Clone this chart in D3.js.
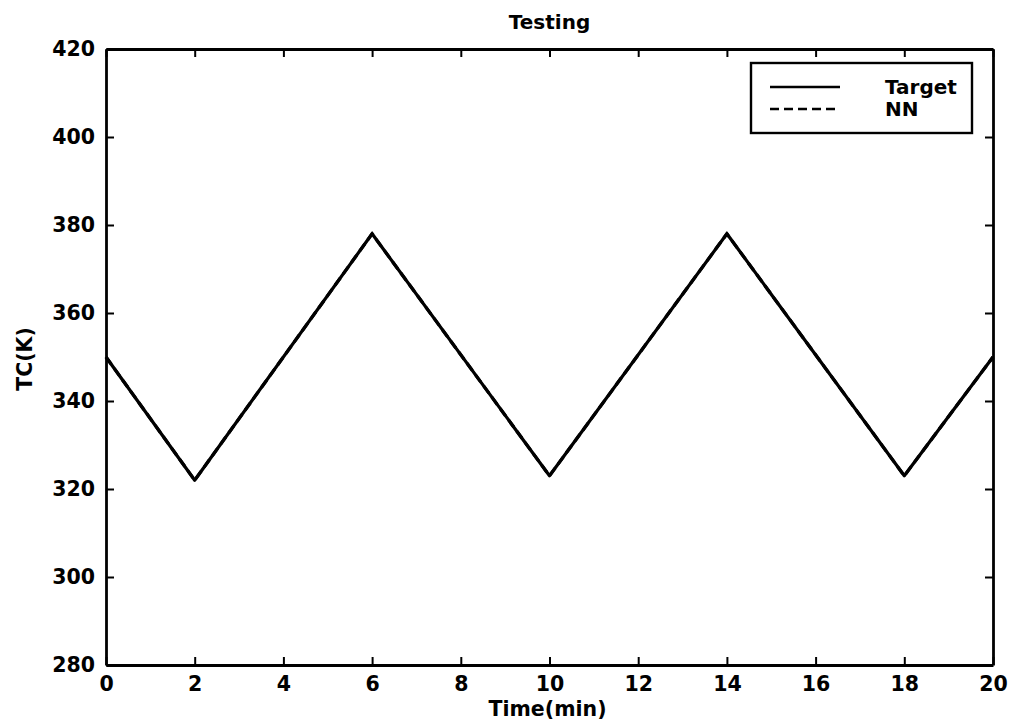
<!DOCTYPE html>
<html>
<head>
<meta charset="utf-8">
<script src="https://cdn.jsdelivr.net/npm/d3@7"></script>
<style>
  html, body { margin: 0; padding: 0; background: #fff; }
  svg { display: block; }
  text { font-family: "DejaVu Sans", sans-serif; font-weight: bold; fill: #000; }
</style>
</head>
<body>
<svg id="chart" width="1016" height="727"></svg>
<script>
// Time samples (min) at the corners of the triangular profile
const timeMin = [0, 2, 6, 10, 14, 18, 20];
// Coolant temperature set-point and network output (K)
const targetTC = [350, 322, 378, 323, 378, 323, 350];
const nnTC = [350, 322, 378, 323, 378, 323, 350];

const xTicks = [0, 2, 4, 6, 8, 10, 12, 14, 16, 18, 20];
const yTicks = [280, 300, 320, 340, 360, 380, 400, 420];
const seriesNames = ["Target", "NN"];

const svg = d3.select("#chart");
const plotLeft = 106, plotRight = 993, plotTop = 49, plotBottom = 665;

const x = d3.scaleLinear().domain([0, 20]).range([plotLeft, plotRight]);
const y = d3.scaleLinear().domain([280, 420]).range([plotBottom, plotTop]);

function styleAxis(g) {
  g.selectAll("path.domain").attr("stroke", "#000").attr("stroke-width", 2.8);
  g.selectAll(".tick line").attr("stroke", "#000").attr("stroke-width", 2);
  g.selectAll(".tick text").attr("font-size", 20.5).attr("font-family", "DejaVu Sans").attr("font-weight", "bold").attr("fill", "#000");
}

// Box axes with inward ticks
svg.append("g").attr("transform", `translate(0,${plotBottom})`)
  .call(d3.axisBottom(x).tickValues(xTicks).tickSizeInner(-8).tickSizeOuter(0).tickPadding(11))
  .call(styleAxis);
svg.append("g").attr("transform", `translate(0,${plotTop})`)
  .call(d3.axisTop(x).tickValues(xTicks).tickSizeInner(-8).tickSizeOuter(0).tickFormat(""))
  .call(styleAxis);
svg.append("g").attr("transform", `translate(${plotLeft},0)`)
  .call(d3.axisLeft(y).tickValues(yTicks).tickSizeInner(-8).tickSizeOuter(0).tickPadding(11))
  .call(styleAxis);
svg.append("g").attr("transform", `translate(${plotRight},0)`)
  .call(d3.axisRight(y).tickValues(yTicks).tickSizeInner(-8).tickSizeOuter(0).tickFormat(""))
  .call(styleAxis);

// Series
const line = d3.line().x((d, i) => x(timeMin[i])).y(d => y(d));
svg.append("path").datum(targetTC)
  .attr("d", line).attr("fill", "none").attr("stroke", "#000")
  .attr("stroke-width", 3.2).attr("stroke-linejoin", "round");
svg.append("path").datum(nnTC)
  .attr("d", line).attr("fill", "none").attr("stroke", "#000")
  .attr("stroke-width", 3.2).attr("stroke-dasharray", "9,5");

// Title and axis labels
svg.append("text").attr("x", (plotLeft + plotRight) / 2).attr("y", 29)
  .attr("text-anchor", "middle").attr("font-size", 20).text("Testing");
svg.append("text").attr("x", (plotLeft + plotRight) / 2 - 2).attr("y", 716)
  .attr("text-anchor", "middle").attr("font-size", 20.5).text("Time(min)");
svg.append("text")
  .attr("transform", `translate(32,${(plotTop + plotBottom) / 2 + 2}) rotate(-90)`)
  .attr("text-anchor", "middle").attr("font-size", 20.5).text("TC(K)");

// Legend
const lg = svg.append("g");
lg.append("rect").attr("x", 751).attr("y", 63).attr("width", 221).attr("height", 70)
  .attr("fill", "#fff").attr("stroke", "#000").attr("stroke-width", 2.4);
const legendRows = [
  { name: seriesNames[0], dash: null, y: 87 },
  { name: seriesNames[1], dash: "9,5", y: 109 }
];
legendRows.forEach(r => {
  lg.append("line").attr("x1", 770).attr("x2", 840).attr("y1", r.y).attr("y2", r.y)
    .attr("stroke", "#000").attr("stroke-width", 2.6)
    .attr("stroke-dasharray", r.dash);
  lg.append("text").attr("x", 885).attr("y", r.y + 7).attr("font-size", 20).text(r.name);
});
</script>
</body>
</html>
